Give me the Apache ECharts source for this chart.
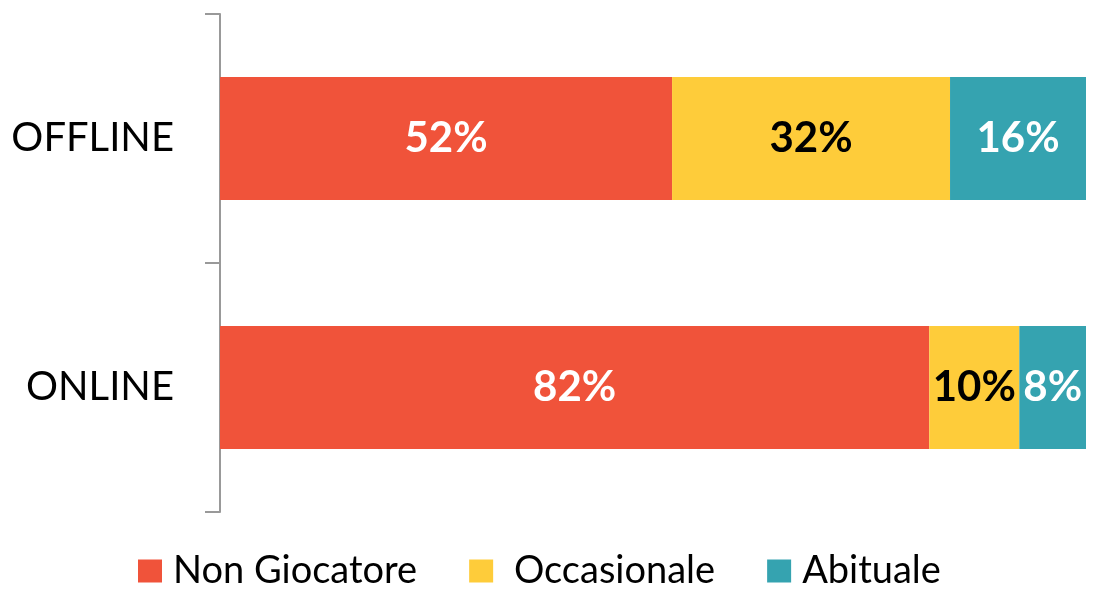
<!DOCTYPE html>
<html>
<head>
<meta charset="utf-8">
<script src="https://cdn.jsdelivr.net/npm/echarts@6/dist/echarts.min.js"></script>
<style>
html,body{margin:0;padding:0;background:#fff;}
#chart{width:1095px;height:599px;}
</style>
</head>
<body>
<div id="chart"></div>
<script>
var categories = ['OFFLINE', 'ONLINE'];
var seriesNames = ['Non Giocatore', ' Occasionale', 'Abituale'];
var nonGiocatore = [52.2, 81.9];
var occasionale = [32.1, 10.4];
var abituale = [15.7, 7.7];

var colors = ['#F0533A', '#FECC3A', '#35A3B0'];
var labelColors = ['#fff', '#000', '#fff'];
var values = [nonGiocatore, occasionale, abituale];

var myChart = echarts.init(document.getElementById('chart'));

var series = [];
for (var i = 0; i < seriesNames.length; i++) {
    series.push({
        name: seriesNames[i],
        type: 'bar',
        stack: 'total',
        barWidth: '49.4%',
        data: values[i],
        itemStyle: {color: colors[i]},
        label: {
            show: true,
            position: 'inside',
            formatter: function(p){ return Math.round(p.value) + '%'; },
            color: labelColors[i],
            fontFamily: 'Lato',
            fontWeight: 'bold',
            fontSize: 42
        }
    });
}

option = {
    animation: false,
    grid: {left: 220, right: 9, top: 14, bottom: 87},
    xAxis: {
        type: 'value',
        min: 0,
        max: 100,
        show: false
    },
    yAxis: {
        type: 'category',
        inverse: true,
        data: categories,
        axisLine: {lineStyle: {color: '#999', width: 2}},
        axisTick: {show: true, length: 15, lineStyle: {color: '#999', width: 2}},
        axisLabel: {
            color: '#000',
            fontFamily: 'Lato',
            fontSize: 40,
            margin: 46
        }
    },
    legend: {
        bottom: 4,
        left: 133,
        icon: 'rect',
        itemWidth: 24,
        itemHeight: 23,
        itemGap: 52,
        textStyle: {color: '#000', fontFamily: 'Lato', fontSize: 38, padding: [0, 0, 0, 6]}
    },
    series: series
};
myChart.setOption(option, true);
</script>
</body>
</html>
